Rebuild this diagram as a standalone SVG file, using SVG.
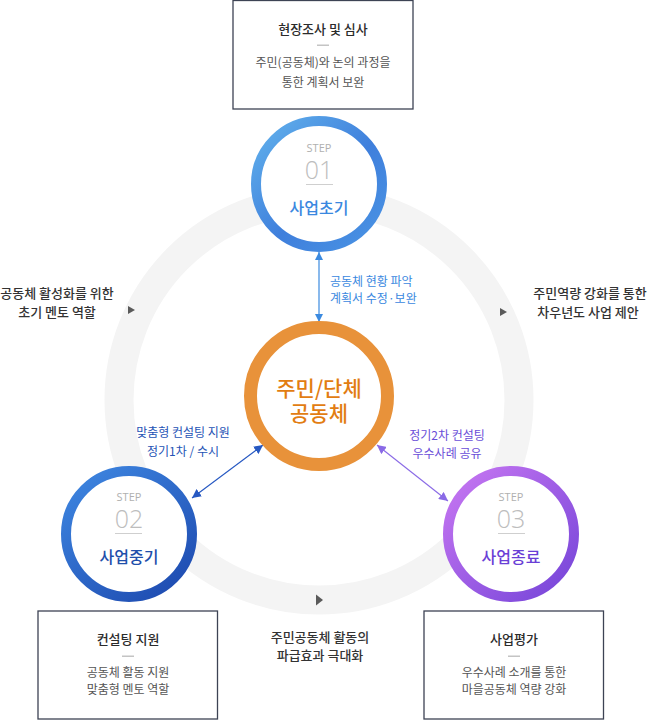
<svg xmlns="http://www.w3.org/2000/svg" width="648" height="720" viewBox="0 0 648 720">
<defs>
<style>
text{font-family:"Noto Sans CJK KR","Noto Sans",sans-serif;}
.box{fill:#fff;stroke:#3d4354;stroke-width:1.3;}
.btitle{font-size:13px;font-weight:500;fill:#2b2b2b;text-anchor:middle;}
.btext{font-size:12px;fill:#555;text-anchor:middle;}
.dash{fill:#c4c4c4;}
.side{font-size:13px;font-weight:500;fill:#333;text-anchor:middle;}
.tri{fill:#5a5a5a;}
.step{font-family:"Open Sans","Liberation Sans",sans-serif;font-size:11px;fill:#b0b0b0;text-anchor:middle;}
.num{font-family:"Open Sans","Liberation Sans",sans-serif;font-size:25px;font-weight:300;fill:#bdbdbd;text-anchor:middle;}
.sline{stroke:#cfcfcf;stroke-width:1;}
.slabel{font-size:16px;font-weight:500;text-anchor:middle;}
.alabel{font-size:12px;}
</style>
<linearGradient id="g1" x1="0" y1="0" x2="1" y2="1">
<stop offset="0" stop-color="#62b2ec"/>
<stop offset="0.55" stop-color="#3f7fdc"/>
<stop offset="1" stop-color="#4a94e4"/>
</linearGradient>
<linearGradient id="g2" x1="0" y1="0" x2="0.8" y2="1">
<stop offset="0" stop-color="#3f88e2"/>
<stop offset="1" stop-color="#1f4db2"/>
</linearGradient>
<linearGradient id="g3" x1="0" y1="0" x2="1" y2="1">
<stop offset="0" stop-color="#c877f2"/>
<stop offset="1" stop-color="#7444d8"/>
</linearGradient>
<marker id="mA" viewBox="0 0 8 8" refX="8" refY="4" markerWidth="8" markerHeight="8" markerUnits="userSpaceOnUse" orient="auto-start-reverse"><path d="M0,0 L8,4 L0,8 z" fill="#3b8ae0"/></marker>
<marker id="mB" viewBox="0 0 8 8" refX="8" refY="4" markerWidth="9" markerHeight="9" markerUnits="userSpaceOnUse" orient="auto-start-reverse"><path d="M0,0 L8,4 L0,8 z" fill="#2658c2"/></marker>
<marker id="mC" viewBox="0 0 8 8" refX="8" refY="4" markerWidth="9" markerHeight="9" markerUnits="userSpaceOnUse" orient="auto-start-reverse"><path d="M0,0 L8,4 L0,8 z" fill="#8a6ae6"/></marker>
</defs>
<rect width="648" height="720" fill="#fff"/>

<!-- background cycle ring -->
<g id="cycle">
<circle cx="319" cy="400" r="200" fill="none" stroke="#f4f4f4" stroke-width="29"/>
<path class="tri" d="M128,306 L135,310 L128,314 z"/>
<path class="tri" d="M500,308 L507,312 L500,316 z"/>
<path class="tri" d="M316,594.5 L323,600 L316,605.5 z"/>
</g>

<!-- connectors -->
<g id="connectors" fill="none">
<line x1="319" y1="252" x2="319" y2="322" stroke="#3b8ae0" stroke-width="1.2" marker-start="url(#mA)" marker-end="url(#mA)"/>
<line x1="192" y1="498" x2="263" y2="445" stroke="#2658c2" stroke-width="1.1" marker-start="url(#mB)" marker-end="url(#mB)"/>
<line x1="377" y1="445" x2="448" y2="501" stroke="#8a6ae6" stroke-width="1.1" marker-start="url(#mC)" marker-end="url(#mC)"/>
</g>

<g id="connector-labels">
<text class="alabel" x="330" y="286" fill="#3a88e0">공동체 현황 파악</text>
<text class="alabel" x="330" y="303" fill="#3a88e0">계획서 수정·보완</text>
<text class="alabel" x="183" y="436.5" fill="#2553b5" text-anchor="middle">맞춤형 컨설팅 지원</text>
<text class="alabel" x="183" y="455.5" fill="#2553b5" text-anchor="middle">정기1차 / 수시</text>
<text class="alabel" x="447" y="439.5" fill="#6a4ed8" text-anchor="middle">정기2차 컨설팅</text>
<text class="alabel" x="447" y="457.5" fill="#6a4ed8" text-anchor="middle">우수사례 공유</text>
</g>

<!-- side texts -->
<g id="label-left">
<text class="side" x="57" y="298">공동체 활성화를 위한</text>
<text class="side" x="57" y="317">초기 멘토 역할</text>
</g>
<g id="label-right">
<text class="side" x="590" y="298">주민역량 강화를 통한</text>
<text class="side" x="588" y="317">차우년도 사업 제안</text>
</g>
<g id="label-bottom">
<text class="side" x="320" y="642">주민공동체 활동의</text>
<text class="side" x="320" y="660">파급효과 극대화</text>
</g>

<!-- top box -->
<g id="box-top">
<rect class="box" x="233" y="0.5" width="180" height="108.5"/>
<text class="btitle" x="323" y="34">현장조사 및 심사</text>
<rect class="dash" x="317" y="44.5" width="12" height="1.5"/>
<text class="btext" x="323" y="66.5">주민(공동체)와 논의 과정을</text>
<text class="btext" x="323" y="86.5">통한 계획서 보완</text>
</g>

<!-- bottom left box -->
<g id="box-left">
<rect class="box" x="38" y="611" width="179.5" height="108"/>
<text class="btitle" x="128" y="644">컨설팅 지원</text>
<rect class="dash" x="122" y="655.5" width="12" height="1.5"/>
<text class="btext" x="128" y="676.5">공동체 활동 지원</text>
<text class="btext" x="128" y="694">맞춤형 멘토 역할</text>
</g>

<!-- bottom right box -->
<g id="box-right">
<rect class="box" x="424" y="611" width="179.5" height="108"/>
<text class="btitle" x="514" y="644">사업평가</text>
<rect class="dash" x="508" y="655.5" width="12" height="1.5"/>
<text class="btext" x="514" y="676.5">우수사례 소개를 통한</text>
<text class="btext" x="514" y="694">마을공동체 역량 강화</text>
</g>

<!-- step 01 -->
<g id="step01">
<circle cx="319" cy="184" r="63" fill="#fff" stroke="url(#g1)" stroke-width="10"/>
<text class="step" x="319" y="151.5">STEP</text>
<text class="num" x="319" y="178.5">01</text>
<line class="sline" x1="306" y1="184.5" x2="333" y2="184.5"/>
<text class="slabel" x="319" y="214" fill="#3a88e0">사업초기</text>
</g>

<!-- step 02 -->
<g id="step02">
<circle cx="129" cy="534" r="63" fill="#fff" stroke="url(#g2)" stroke-width="10"/>
<text class="step" x="129" y="500.5">STEP</text>
<text class="num" x="129" y="527.5">02</text>
<line class="sline" x1="115" y1="533.5" x2="142" y2="533.5"/>
<text class="slabel" x="129" y="563" fill="#1f4fab">사업중기</text>
</g>

<!-- step 03 -->
<g id="step03">
<circle cx="511" cy="534" r="63" fill="#fff" stroke="url(#g3)" stroke-width="10"/>
<text class="step" x="511" y="500.5">STEP</text>
<text class="num" x="511" y="527.5">03</text>
<line class="sline" x1="498" y1="533.5" x2="525" y2="533.5"/>
<text class="slabel" x="511" y="563" fill="#6a3fd6">사업종료</text>
</g>

<!-- center -->
<g id="center">
<circle cx="319" cy="396" r="68.5" fill="#fff" stroke="#e8923a" stroke-width="13"/>
<text x="319" y="396" font-size="21" font-weight="500" fill="#e27d12" text-anchor="middle">주민/단체</text>
<text x="319" y="421" font-size="21" font-weight="500" fill="#e27d12" text-anchor="middle">공동체</text>
</g>
</svg>
